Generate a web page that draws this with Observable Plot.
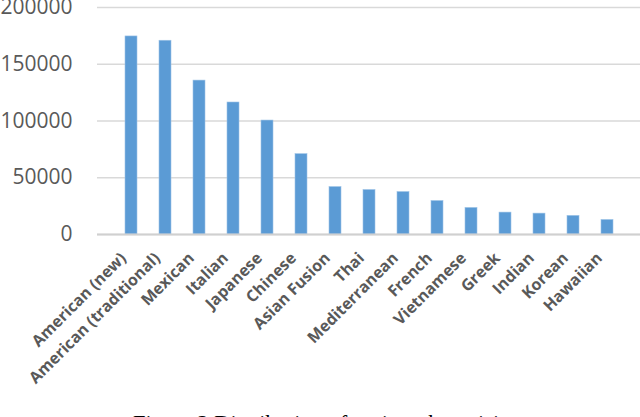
<!DOCTYPE html>
<html>
<head>
<meta charset="utf-8">
<script src="https://cdn.jsdelivr.net/npm/d3@7"></script>
<script src="https://cdn.jsdelivr.net/npm/@observablehq/plot@0.6"></script>
<style>
  html, body { margin: 0; padding: 0; background: #fff; overflow: hidden; }
  #caption { font-family: "Liberation Serif", "DejaVu Serif", serif; font-size: 22.5px; color: #000; padding-left: 133px; margin-top: 6px; white-space: nowrap; line-height: 1.15; }
</style>
</head>
<body>
<div id="chart"></div>
<div id="caption">Figure 2 Distribution of reviews by cuisine type</div>
<script>
const cuisines = ["American (new)", "American (traditional)", "Mexican", "Italian", "Japanese", "Chinese", "Asian Fusion", "Thai", "Mediterranean", "French", "Vietnamese", "Greek", "Indian", "Korean", "Hawaiian"];
const reviewCounts = [174500, 170700, 135600, 116300, 100400, 70800, 41800, 39200, 37400, 29500, 23400, 19300, 18400, 16400, 12800];
const yTicks = [0, 50000, 100000, 150000, 200000];

const data = cuisines.map((c, i) => ({cuisine: c, count: reviewCounts[i]}));

const chart = Plot.plot({
  width: 640,
  height: 405,
  marginLeft: 97,
  marginRight: 0,
  marginTop: 7,
  marginBottom: 171,
  style: {background: "#fff", overflow: "visible"},
  x: {domain: cuisines, padding: 0.65},
  y: {domain: [0, 200000], ticks: yTicks},
  marks: [
    Plot.gridY(yTicks, {stroke: "#d9d9d9", strokeOpacity: 1, strokeWidth: 1.5}),
    Plot.barY(data, {x: "cuisine", y: "count", fill: "#5b9bd5", stroke: "#9dc3e6", strokeWidth: 0.6}),
    Plot.ruleY([0], {stroke: "#d0d0d0", strokeWidth: 1.8}),
    Plot.axisY(yTicks, {tickSize: 0, tickPadding: 25, tickFormat: d => String(d), fontSize: 21, fontFamily: "Open Sans", fill: "#595959", label: null}),
    Plot.axisX({tickSize: 0, tickPadding: 21, dx: -8, tickRotate: -45, fontSize: 16, fontWeight: "bold", fontFamily: "Open Sans", fill: "#595959", label: null})
  ]
});
document.getElementById("chart").appendChild(chart);
</script>
</body>
</html>
